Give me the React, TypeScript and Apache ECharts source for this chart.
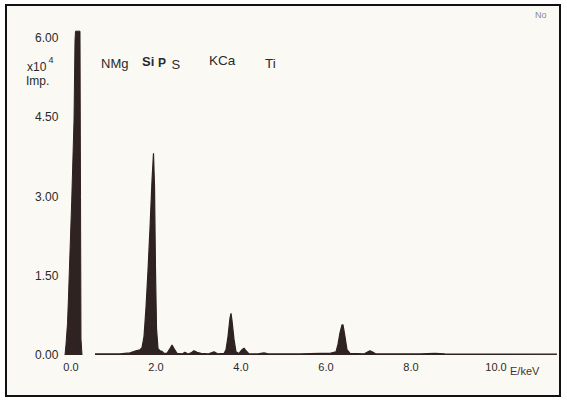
import React, { useEffect, useRef } from "react";
import * as echarts from "echarts";

// tick values
const xTicks = [0, 2, 4, 6, 8, 10];
const yTicks = [0, 1.5, 3, 4.5, 6];

// zero-energy (noise) peak  [keV, counts x10^4]
const noisePeak: [number, number][] = [
  [-0.141, 0], [-0.118, 0.2], [-0.082, 0.6], [-0.059, 1.1], [0.016, 2.9],
  [0.071, 4.45], [0.094, 5.95], [0.106, 6.13], [0.212, 6.13], [0.224, 3.0],
  [0.235, 0.3], [0.259, 0],
];

// main spectrum [keV, counts x10^4]
const spectrum: [number, number][] = [
  [0.565, 0.02], [1.153, 0.02], [1.388, 0.04], [1.529, 0.08], [1.624, 0.1],
  [1.671, 0.14], [1.718, 0.35], [1.765, 0.9], [1.812, 1.6], [1.859, 2.4],
  [1.906, 3.3], [1.941, 3.82], [1.965, 3.2], [1.988, 1.6], [2.012, 0.5],
  [2.047, 0.12], [2.094, 0.08], [2.141, 0.07], [2.188, 0.03], [2.259, 0.03],
  [2.329, 0.12], [2.376, 0.19], [2.424, 0.12], [2.494, 0.03], [2.612, 0.02],
  [2.682, 0.05], [2.753, 0.02], [2.824, 0.04], [2.894, 0.08], [2.965, 0.05],
  [3.059, 0.03], [3.224, 0.02], [3.365, 0.06], [3.459, 0.02], [3.6, 0.03],
  [3.647, 0.1], [3.694, 0.35], [3.741, 0.7], [3.765, 0.79], [3.788, 0.65],
  [3.835, 0.3], [3.882, 0.06], [3.953, 0.03], [4.024, 0.1], [4.071, 0.13],
  [4.118, 0.08], [4.188, 0.02], [4.4, 0.02], [4.541, 0.04], [4.635, 0.02],
  [5.388, 0.02], [5.859, 0.03], [6.094, 0.03], [6.235, 0.06], [6.282, 0.2],
  [6.329, 0.42], [6.376, 0.57], [6.4, 0.57], [6.447, 0.35], [6.494, 0.1],
  [6.565, 0.03], [6.894, 0.02], [6.965, 0.05], [7.035, 0.08], [7.106, 0.05],
  [7.176, 0.02], [8.212, 0.02], [8.565, 0.03], [8.8, 0.02], [11.435, 0.015],
];

// element markers
const elements = ["NMg", "Si", "P", "S", "KCa", "Ti"];

const INK = "#2e2222";
const TEXT = "#2a2a2a";

export default function App() {
  const ref = useRef<HTMLDivElement>(null);
  useEffect(() => {
    document.body.style.margin = "0";
    const chart = echarts.init(ref.current!, null, { renderer: "svg" });
    const font = "'Liberation Sans', Arial, sans-serif";
    const elemStyle = [
      { x: 101, y: 63.5, size: 13, weight: "normal" },
      { x: 142, y: 61, size: 13, weight: "bold" },
      { x: 158, y: 63, size: 12, weight: "bold" },
      { x: 171.5, y: 64.5, size: 13, weight: "normal" },
      { x: 209, y: 60.5, size: 13.5, weight: "normal" },
      { x: 265, y: 63.5, size: 13.5, weight: "normal" },
    ];
    chart.setOption({
      animation: false,
      backgroundColor: "#ffffff",
      grid: { left: 60.375, right: 7.25, top: 22.2, bottom: 47 },
      xAxis: {
        type: "value",
        min: -0.25,
        max: 11.5,
        axisLine: { show: false },
        axisTick: { show: false },
        splitLine: { show: false },
        axisLabel: {
          customValues: xTicks,
          formatter: (v: number) => v.toFixed(1),
          color: TEXT,
          fontSize: 11,
          fontFamily: font,
          margin: 6,
        },
      },
      yAxis: {
        type: "value",
        min: 0,
        max: 6.3,
        axisLine: { show: false },
        axisTick: { show: false },
        splitLine: { show: false },
        axisLabel: {
          customValues: yTicks,
          formatter: (v: number) => v.toFixed(2),
          color: TEXT,
          fontSize: 12,
          fontFamily: font,
          margin: 2,
        },
      },
      graphic: [
        {
          type: "rect",
          z: -1,
          shape: { x: 6, y: 5, width: 554, height: 391 },
          style: { fill: "#fbf9f4", stroke: "#111", lineWidth: 2 },
          silent: true,
        },
        ...elements.map((t, i) => ({
          type: "text",
          x: elemStyle[i].x,
          y: elemStyle[i].y,
          style: {
            text: t,
            fill: TEXT,
            font: `${elemStyle[i].weight} ${elemStyle[i].size}px ${font}`,
            textVerticalAlign: "middle",
          },
        })),
        {
          type: "text",
          x: 27,
          y: 66.5,
          style: { text: "x10", fill: TEXT, font: `12px ${font}`, textVerticalAlign: "middle" },
        },
        {
          type: "text",
          x: 48.5,
          y: 60,
          style: { text: "4", fill: TEXT, font: `9px ${font}`, textVerticalAlign: "middle" },
        },
        {
          type: "text",
          x: 26,
          y: 80.5,
          style: { text: "Imp.", fill: TEXT, font: `12px ${font}`, textVerticalAlign: "middle" },
        },
        {
          type: "text",
          x: 510,
          y: 371,
          style: { text: "E/keV", fill: "#4a2e2e", font: `11px ${font}`, textVerticalAlign: "middle" },
        },
        {
          type: "text",
          x: 535,
          y: 14.5,
          style: { text: "No", fill: "#8a8a8a", font: `9px ${font}`, textVerticalAlign: "middle" },
        },
      ],
      series: [
        {
          type: "line",
          data: noisePeak,
          showSymbol: false,
          lineStyle: { color: INK, width: 1 },
          areaStyle: { color: INK, opacity: 1 },
        },
        {
          type: "line",
          data: spectrum,
          showSymbol: false,
          lineStyle: { color: INK, width: 1.2 },
          areaStyle: { color: INK, opacity: 1 },
        },
      ],
    });
    return () => chart.dispose();
  }, []);
  return <div ref={ref} style={{ position: "absolute", left: 0, top: 0, width: 567, height: 402 }} />;
}
